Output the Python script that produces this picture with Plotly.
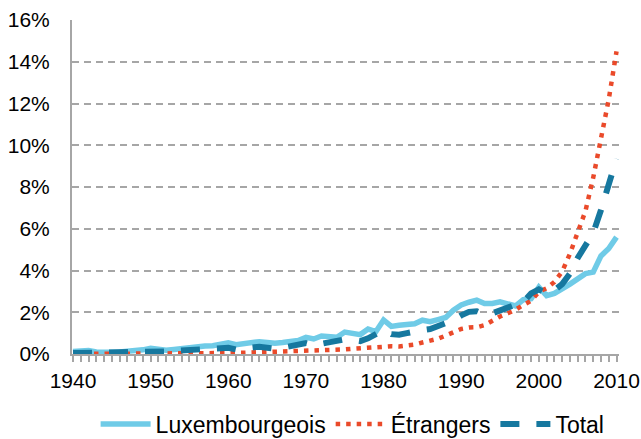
import plotly.graph_objects as go

years = list(range(1940, 2011))

luxembourgeois = [0.12, 0.15, 0.17, 0.10, 0.06, 0.08, 0.10, 0.12, 0.14, 0.20,
                  0.27, 0.20, 0.18, 0.22, 0.27, 0.32, 0.35, 0.38, 0.40, 0.50,
                  0.54, 0.45, 0.48, 0.52, 0.59, 0.55, 0.51, 0.55, 0.59, 0.65,
                  0.80, 0.72, 0.86, 0.82, 0.80, 1.05, 1.00, 0.93, 1.20, 1.07,
                  1.63, 1.32, 1.38, 1.40, 1.45, 1.62, 1.55, 1.65, 1.75, 2.10,
                  2.35, 2.48, 2.58, 2.42, 2.42, 2.50, 2.40, 2.30, 2.60, 2.65,
                  3.20, 2.80, 2.90, 3.10, 3.35, 3.60, 3.85, 3.92, 4.70, 5.05,
                  5.60]

etrangers = [0.00, 0.00, 0.00, 0.00, 0.00, 0.00, 0.00, 0.01, 0.01, 0.01,
             0.01, 0.01, 0.02, 0.02, 0.02, 0.02, 0.03, 0.03, 0.04, 0.05,
             0.05, 0.05, 0.06, 0.07, 0.08, 0.08, 0.09, 0.10, 0.11, 0.13,
             0.15, 0.16, 0.18, 0.19, 0.20, 0.22, 0.25, 0.28, 0.32, 0.36,
             0.38, 0.37, 0.36, 0.38, 0.45, 0.55, 0.63, 0.73, 0.88, 1.05,
             1.20, 1.27, 1.28, 1.38, 1.60, 1.80, 1.95, 2.12, 2.35, 2.55,
             2.98, 3.15, 3.45, 3.95, 4.80, 5.85, 6.85, 8.45, 10.30, 12.20,
             14.50]

total = [0.05, 0.05, 0.05, 0.05, 0.06, 0.10, 0.12, 0.10, 0.08, 0.10,
         0.12, 0.12, 0.12, 0.15, 0.18, 0.20, 0.20, 0.22, 0.30, 0.32,
         0.30, 0.22, 0.28, 0.33, 0.35, 0.30, 0.25, 0.30, 0.38, 0.50,
         0.52, 0.42, 0.50, 0.55, 0.62, 0.70, 0.68, 0.62, 0.75, 0.95,
         1.15, 0.95, 0.92, 1.00, 1.10, 1.15, 1.20, 1.32, 1.45, 1.62,
         1.85, 2.02, 2.05, 1.90, 1.95, 2.10, 2.20, 2.35, 2.50, 2.90,
         3.10, 2.90, 3.05, 3.35, 3.85, 4.60, 5.15, 5.80, 6.90, 8.10,
         9.35]

series_names = ["Luxembourgeois", "Étrangers", "Total"]
y_ticks = [0, 2, 4, 6, 8, 10, 12, 14, 16]
y_tick_labels = [f"{v}%" for v in y_ticks]
x_ticks = [1940, 1950, 1960, 1970, 1980, 1990, 2000, 2010]

FONT = "Liberation Sans, Arial, sans-serif"
GRID = "#a6a6a6"

fig = go.Figure()
fig.add_trace(go.Scatter(x=years, y=luxembourgeois, name=series_names[0], mode="lines",
                         line=dict(color="#6fcbe7", width=5.5)))
fig.add_trace(go.Scatter(x=years, y=etrangers, name=series_names[1], mode="lines",
                         line=dict(color="#ea4a2a", width=4.5, dash="4.5px,6px")))
fig.add_trace(go.Scatter(x=years, y=total, name=series_names[2], mode="lines",
                         line=dict(color="#16789f", width=6, dash="19px,17px")))

fig.update_layout(
    width=641, height=439,
    margin=dict(l=72, r=22, t=20, b=85, autoexpand=False),
    paper_bgcolor="white", plot_bgcolor="white",
    font=dict(family=FONT, size=21, color="#000000"),
    showlegend=True,
    legend=dict(orientation="h", x=0.513, xanchor="center", y=-0.21, yanchor="middle",
                font=dict(size=23, family=FONT, color="#000000"),
                itemwidth=50, tracegroupgap=0),
    xaxis=dict(range=[1939.87, 2010.32], tickvals=x_ticks, ticktext=[str(v) for v in x_ticks],
               automargin=False,
               showgrid=False, zeroline=False, showline=True, linecolor=GRID, linewidth=2,
               ticks="outside", ticklen=6, tickwidth=1.5, tickcolor=GRID,
               ticklabelstandoff=1,
               minor=dict(dtick=1, tick0=1940, ticks="outside", ticklen=6, tickwidth=1.5,
                          tickcolor=GRID, showgrid=False),
               tickfont=dict(size=21, family=FONT, color="#000000")),
    yaxis=dict(range=[0, 16], tickvals=y_ticks, ticktext=y_tick_labels,
               automargin=False,
               showgrid=True, gridcolor=GRID, gridwidth=1.5, griddash="7px,5px",
               zeroline=False, showline=True, linecolor=GRID, linewidth=2,
               ticks="", ticklabelstandoff=16,
               tickfont=dict(size=21, family=FONT, color="#000000")),
)

fig.write_html("out.html", config={"displayModeBar": False},
               post_script="document.body.style.margin='0px';document.body.style.padding='0px';")
